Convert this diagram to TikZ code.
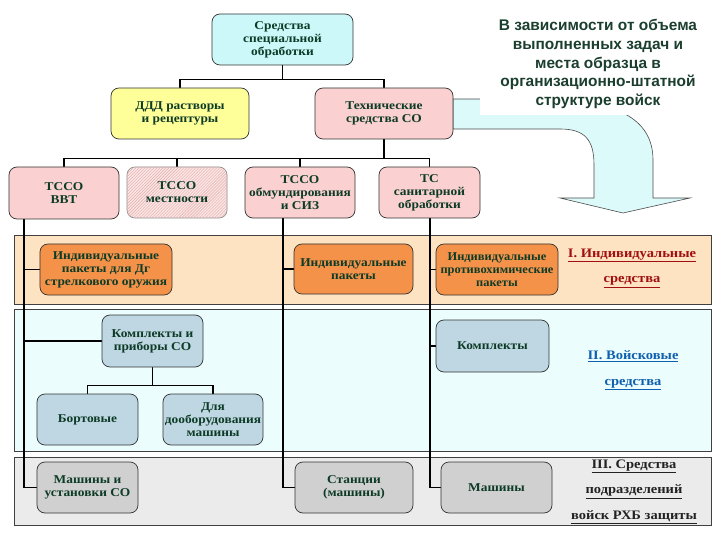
\documentclass[tikz,border=0pt]{standalone}
\usepackage{fontspec}
\setmainfont{Liberation Serif}
\newfontfamily\boxfont{Liberation Serif}[FakeStretch=1.12]
\newfontfamily\boxfontn{Liberation Serif}[FakeStretch=1.04]
\newfontfamily\sansb{Liberation Sans}
\usetikzlibrary{patterns}
\pgfdeclarelayer{bg}\pgfdeclarelayer{conn}
\pgfsetlayers{bg,conn,main}
\definecolor{txtgreen}{HTML}{0D3B26}
\definecolor{hdgreen}{HTML}{1B3F2E}
\definecolor{cyanbox}{HTML}{CCF8FA}
\definecolor{yelbox}{HTML}{FFFF99}
\definecolor{pinkbox}{HTML}{FAD0D0}
\definecolor{pinklt}{HTML}{FCE6E6}
\definecolor{hatchc}{HTML}{E0A8A8}
\definecolor{orband}{HTML}{FDE3C2}
\definecolor{orbox}{HTML}{F5924A}
\definecolor{blband}{HTML}{EBFDFD}
\definecolor{blbox}{HTML}{BFD7E3}
\definecolor{grband}{HTML}{EBEBEB}
\definecolor{grbox}{HTML}{D0D0D0}
\definecolor{arrowc}{HTML}{DDFAFA}
\definecolor{redlab}{HTML}{A01010}
\definecolor{bluelab}{HTML}{1060B0}
\definecolor{graylab}{HTML}{222222}
\begin{document}
\begin{tikzpicture}[x=1bp,y=-1bp,
  box/.style={draw=black!80, line width=0.7bp, rounded corners=8bp, align=center,
    inner sep=0pt, text=txtgreen, font=\boxfont\bfseries\fontsize{12}{13}\selectfont},
  band/.style={draw=black!75, line width=0.8bp},
  conn/.style={draw=black, line width=1.5bp},
  lab/.style={align=center, inner sep=0pt, font=\boxfont\bfseries\fontsize{13}{25.5}\selectfont}]
\useasboundingbox (0,0) rectangle (720,540);
\begin{pgfonlayer}{bg}
  \fill[white] (0,0) rectangle (720,540);
  \filldraw[band, fill=orband] (14,235) rectangle (711,304);
  \filldraw[band, fill=blband] (14,309) rectangle (711,451);
  \filldraw[band, fill=grband] (14,457) rectangle (711,525);
  \filldraw[fill=arrowc, draw=black!70, line width=0.6bp]
    (453,99) -- (540,99) .. controls (615,99) and (653,118) .. (653,160)
    -- (653,198) -- (690,198) -- (623,213) -- (560,198) -- (594,198)
    -- (594,165) .. controls (594,140) and (585,129) .. (560,129)
    -- (453,129) -- cycle;
  \fill[white] (480,0) rectangle (712,115);
\end{pgfonlayer}
\node[align=center, inner sep=0pt, text=hdgreen, font=\sansb\bfseries\fontsize{15.5}{19}\selectfont] (head) at (598,64)
  {В зависимости от объема\\выполненных задач и\\места образца в\\организационно-штатной\\структуре войск};
% boxes
\node[box, fill=cyanbox, minimum width=141bp, minimum height=51bp] (top) at (282.5,39.5) {Средства\\специальной\\обработки};
\node[box, fill=yelbox, minimum width=138bp, minimum height=51bp] (ddd) at (180,113.5) {ДДД растворы\\и рецептуры};
\node[box, fill=pinkbox, minimum width=138bp, minimum height=51bp] (tech) at (384,113.5) {Технические\\средства СО};
\node[box, fill=pinkbox, minimum width=110bp, minimum height=52bp] (vvt) at (64,193) {ТССО\\ВВТ};
\node[box, draw=black!45, fill=pinklt, postaction={pattern=north east lines, pattern color=hatchc}, minimum width=100bp, minimum height=51bp] (mest) at (177,192.5) {ТССО\\местности};
\node[box, fill=pinkbox, minimum width=110bp, minimum height=51bp] (obm) at (300,192.5) {ТССО\\обмундирования\\и СИЗ};
\node[box, fill=pinkbox, minimum width=101bp, minimum height=51bp] (ts) at (429.5,192.5) {ТС\\санитарной\\обработки};
\node[box, fill=orbox, minimum width=132bp, minimum height=51bp] (ip1) at (106,269.5) {Индивидуальные\\пакеты для Дг\\стрелкового оружия};
\node[box, fill=orbox, minimum width=119bp, minimum height=50bp] (ip2) at (353.5,269) {Индивидуальные\\пакеты};
\node[box, fill=orbox, minimum width=122bp, minimum height=51bp, font=\boxfontn\bfseries\fontsize{12}{13}\selectfont] (ip3) at (497,269.5) {Индивидуальные\\противохимические\\пакеты};
\node[box, fill=blbox, minimum width=101bp, minimum height=52bp] (kp) at (152.5,341) {Комплекты и\\приборы СО};
\node[box, fill=blbox, minimum width=113bp, minimum height=52bp] (k) at (492.5,346) {Комплекты};
\node[box, fill=blbox, minimum width=101bp, minimum height=51bp] (bort) at (87.5,419.5) {Бортовые};
\node[box, fill=blbox, minimum width=100bp, minimum height=51bp] (dop) at (213,419.5) {Для\\дооборудования\\машины};
\node[box, fill=grbox, minimum width=101bp, minimum height=51bp] (mu) at (87.5,487.5) {Машины и\\установки СО};
\node[box, fill=grbox, minimum width=118bp, minimum height=51bp] (st) at (354,487.5) {Станции\\(машины)};
\node[box, fill=grbox, minimum width=111bp, minimum height=51bp] (m) at (496.5,487.5) {Машины};
% labels
\node[lab, text=redlab] (l1) at (632,268) {\underline{I. Индивидуальные}\\\underline{средства}};
\node[lab, text=bluelab] (l2) at (633,370.5) {\underline{II. Войсковые}\\\underline{средства}};
\node[lab, text=graylab] (l3) at (634,491.5) {\underline{III. Средства}\\\underline{подразделений}\\\underline{войск РХБ защиты}};
% connectors
\coordinate (tA) at (24,0);
\coordinate (tB) at (283,0);
\coordinate (tC) at (430,0);
\begin{pgfonlayer}{conn}
  \draw[conn] (top.south) -- ++(0,14) coordinate (j1);
  \draw[conn] (ddd.north) |- (j1) -| (tech.north);
  \draw[conn] (tech.south) -- ++(0,19) coordinate (j2);
  \draw[conn] (vvt.north) |- (j2) -| (ts.north);
  \draw[conn] (mest.north) -- (mest.north |- j2);
  \draw[conn] (obm.north) -- (obm.north |- j2);
  \draw[conn] (kp.south) -- ++(0,18) coordinate (j3);
  \draw[conn] (bort.north) |- (j3) -| (dop.north);
  \draw[conn] (vvt.south -| tA) |- (mu.west);
  \draw[conn] (obm.south -| tB) |- (st.west);
  \draw[conn] (ts.south -| tC) |- (m.west);
  \draw[conn] (ip1.west -| tA) -- (ip1.west);
  \draw[conn] (kp.west -| tA) -- (kp.west);
  \draw[conn] (ip2.west -| tB) -- (ip2.west);
  \draw[conn] (ip3.west -| tC) -- (ip3.west);
  \draw[conn] (k.west -| tC) -- (k.west);
\end{pgfonlayer}
\end{tikzpicture}
\end{document}
